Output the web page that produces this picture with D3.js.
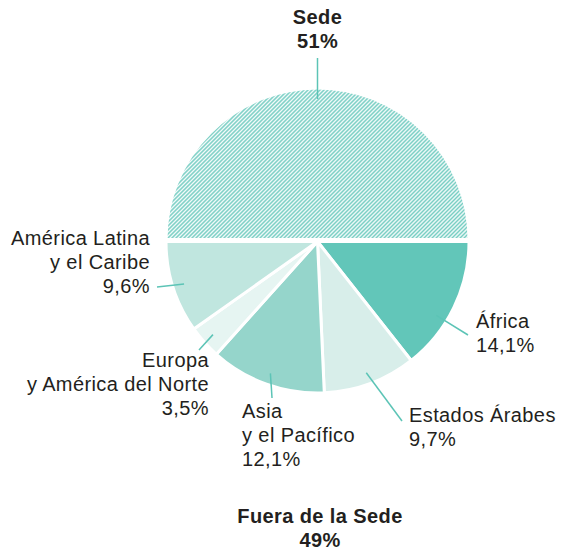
<!DOCTYPE html>
<html>
<head>
<meta charset="utf-8">
<script src="https://cdn.jsdelivr.net/npm/d3@7"></script>
<style>
  body { margin: 0; background: #fff; }
  text { font-family: "Liberation Sans", Arial, sans-serif; fill: #231f20; letter-spacing: 0.4px; }
</style>
</head>
<body>
<div id="chart"></div>
<script>
// headquarters vs field share
const sedeShare = 51;
const fueraShare = 49;

// field offices by region
const regions = ["África", "Estados Árabes", "Asia y el Pacífico", "Europa y América del Norte", "América Latina y el Caribe"];
const regionValues = [14.1, 9.7, 12.1, 3.5, 9.6];
const regionColors = ["#62c6b9", "#d8eeea", "#95d5cb", "#e6f5f2", "#c0e6df"];

// label lines for each region (layout only)
const regionLabels = [
    { lines: ["África", "14,1%"], x: 476, y: 328, anchor: "start", end: [468, 335], nudge: 6 },
    { lines: ["Estados Árabes", "9,7%"], x: 409, y: 422, anchor: "start", end: [402, 421], nudge: 0 },
    { lines: ["Asia", "y el Pacífico", "12,1%"], x: 242, y: 418, anchor: "start", end: [272, 398], nudge: 0 },
    { lines: ["Europa", "y América del Norte", "3,5%"], x: 209, y: 367, anchor: "end", end: [199, 350], nudge: 0 },
    { lines: ["América Latina", "y el Caribe", "9,6%"], x: 150, y: 245, anchor: "end", end: [157, 287], nudge: 0 }
];

const width = 562, height = 551;
const cx = 317.5, cy = 240;
const radius = 151.5;
const teal = "#5cc4b6";

const svg = d3.select("#chart")
    .append("svg")
    .attr("width", width)
    .attr("height", height);

// hatch pattern for the Sede half
const pattern = svg.append("defs")
    .append("pattern")
    .attr("id", "hatch")
    .attr("patternUnits", "userSpaceOnUse")
    .attr("width", 2.83)
    .attr("height", 10)
    .attr("patternTransform", "rotate(45)");

pattern.append("rect")
    .attr("width", 2.83)
    .attr("height", 10)
    .attr("fill", "#fff");

pattern.append("rect")
    .attr("width", 1.45)
    .attr("height", 10)
    .attr("fill", "#6ccabe");

const g = svg.append("g")
    .attr("transform", `translate(${cx},${cy})`);

const arc = d3.arc()
    .innerRadius(0)
    .outerRadius(radius);

// top half: Sede
const topPie = d3.pie()
    .sort(null)
    .startAngle(-Math.PI / 2)
    .endAngle(Math.PI / 2)(
        [sedeShare]
    );

g.append("g")
    .attr("transform", "translate(0,-0.5)")
    .selectAll("path")
    .data(topPie)
    .join("path")
    .attr("d", arc)
    .attr("fill", "url(#hatch)")
    .attr("stroke", "#fff")
    .attr("stroke-width", 3);

// bottom half: regions
const bottomPie = d3.pie()
    .sort(null)
    .startAngle(Math.PI / 2)
    .endAngle(3 * Math.PI / 2)(
        regionValues
    );

const bottom = g.append("g")
    .attr("transform", "translate(0,1.5)");

bottom.selectAll("path")
    .data(bottomPie)
    .join("path")
    .attr("d", arc)
    .attr("fill", (d, i) => regionColors[i])
    .attr("stroke", "#fff")
    .attr("stroke-width", 3)
    .attr("stroke-linejoin", "round");

// leader lines and labels for regions
const lineStart = 140;
bottomPie.forEach((d, i) => {
    const lab = regionLabels[i];
    const a = (d.startAngle + d.endAngle) / 2 + lab.nudge * Math.PI / 180;
    const x0 = cx + lineStart * Math.sin(a);
    const y0 = cy + 1.5 - lineStart * Math.cos(a);

    svg.append("line")
        .attr("x1", x0)
        .attr("y1", y0)
        .attr("x2", lab.end[0])
        .attr("y2", lab.end[1])
        .attr("stroke", teal)
        .attr("stroke-width", 1.5);

    const t = svg.append("text")
        .attr("text-anchor", lab.anchor)
        .style("font-size", "20px");
    lab.lines.forEach((s, j) => {
        t.append("tspan")
            .attr("x", lab.x)
            .attr("y", lab.y + j * 24)
            .text(s);
    });
});

// Sede label
svg.append("line")
    .attr("x1", cx)
    .attr("y1", cy - 141)
    .attr("x2", cx)
    .attr("y2", 58)
    .attr("stroke", teal)
    .attr("stroke-width", 1.5);

const sedeText = svg.append("text")
    .attr("text-anchor", "middle")
    .style("font-size", "20px")
    .style("font-weight", "bold");
sedeText.append("tspan").attr("x", cx).attr("y", 24).text("Sede");
sedeText.append("tspan").attr("x", cx).attr("y", 48).text(`${sedeShare}%`);

// Fuera de la Sede label
const fueraText = svg.append("text")
    .attr("text-anchor", "middle")
    .style("font-size", "20px")
    .style("font-weight", "bold");
fueraText.append("tspan").attr("x", 320).attr("y", 523).text("Fuera de la Sede");
fueraText.append("tspan").attr("x", 320).attr("y", 547).text(`${fueraShare}%`);
</script>
</body>
</html>
